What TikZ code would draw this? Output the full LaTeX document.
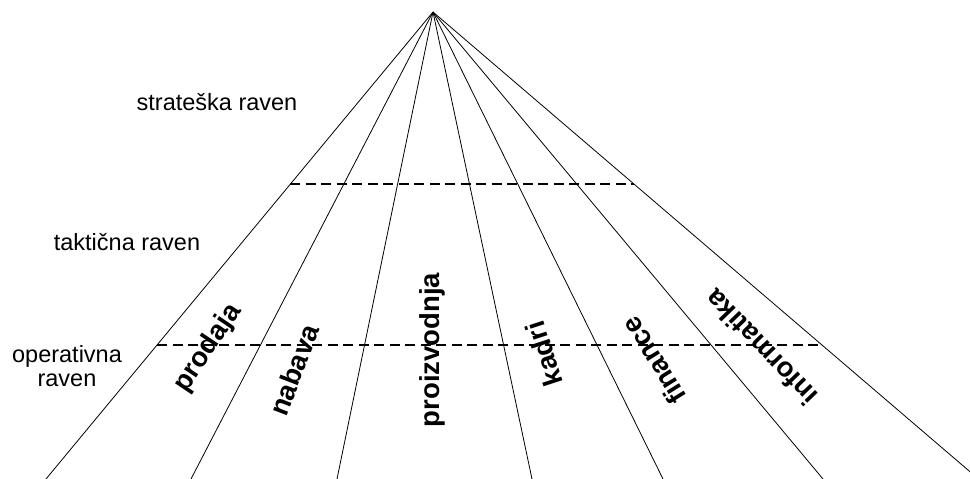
\documentclass[tikz,border=0pt]{standalone}
\usepackage{fontspec}
\setmainfont{Liberation Sans}
\usetikzlibrary{calc}
\begin{document}
\begin{tikzpicture}[x=1pt,y=-1pt,
  ray/.style={line width=0.8pt},
  levelline/.style={line width=1.8pt, dash pattern=on 10pt off 5.5pt},
  levellabel/.style={font=\fontsize{23.5}{24}\selectfont, inner sep=0pt, align=center},
  dept/.style={font=\fontsize{27.5}{30}\selectfont\bfseries, inner sep=0pt}]
  \useasboundingbox (0,0) rectangle (970,479);
  \clip (0,0) rectangle (970,479);

  % fan of rays from the common apex
  \coordinate (apex) at (433,12);
  \coordinate (b1) at (46,479);
  \coordinate (b2) at (191,479);
  \coordinate (b3) at (337,479);
  \coordinate (b4) at (532,479);
  \coordinate (b5) at (663,479);
  \coordinate (b6) at (823,479);
  \coordinate (b7) at (978.5,479);
  \foreach \i in {1,...,7} {
    \draw[ray] (apex) -- (b\i);
  }

  % boundaries between the management levels
  \coordinate (u1) at ($(apex)!0.3683!(b1)$);
  \coordinate (u7) at ($(apex)!0.3683!(b7)$);
  \coordinate (l1) at ($(apex)!0.7131!(b1)$);
  \coordinate (l7) at ($(apex)!0.7131!(b7)$);
  \draw[levelline] (u1) -- (u7);
  \draw[levelline] (l1) -- (l7);

  % level names
  \node[levellabel, anchor=base] (strat) at (217,110) {strateška raven};
  \node[levellabel, anchor=base] (takt) at (127,250) {taktična raven};
  \node[levellabel] (oper) at (67,366) {operativna\\raven};

  % business functions, each along its sector towards the apex
  \node[dept, rotate=56]  (prodaja) at (208,348) {prodaja};
  \node[dept, rotate=69]  (nabava)  at (294,370) {nabava};
  \node[dept, rotate=90]  (proizv)  at (432,350) {proizvodnja};
  \node[dept, rotate=108] (kadri)   at (544,354) {kadri};
  \node[dept, rotate=122] (finance) at (654,361) {finance};
  \node[dept, rotate=134] (inform)  at (761,348) {informatika};
\end{tikzpicture}
\end{document}
